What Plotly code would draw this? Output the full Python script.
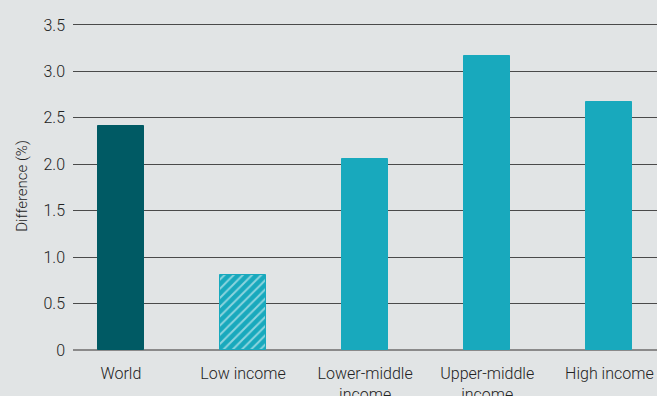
import plotly.graph_objects as go

categories = ["World", "Low income", "Lower-middle<br>income", "Upper-middle<br>income", "High income"]
values = [2.41, 0.81, 2.06, 3.17, 2.67]
bar_colors = ["#005a64", "#18a9bd", "#18a9bd", "#18a9bd", "#18a9bd"]
pattern_shapes = ["", "/", "", "", ""]
pattern_bg = ["#005a64", "white", "#18a9bd", "#18a9bd", "#18a9bd"]
y_ticks = [0, 0.5, 1.0, 1.5, 2.0, 2.5, 3.0, 3.5]
y_tick_text = ["0", "0.5", "1.0", "1.5", "2.0", "2.5", "3.0", "3.5"]

fig = go.Figure(go.Bar(
    x=list(range(len(categories))),
    y=values,
    width=0.376,
    marker=dict(
        color=bar_colors,
        line=dict(color=bar_colors, width=1),
        pattern=dict(shape=pattern_shapes, fgcolor="#18a9bd", bgcolor=pattern_bg,
                     size=6.5, solidity=0.3),
    ),
    hoverinfo="skip",
))

font_family = "Roboto, Liberation Sans, sans-serif"
text_font = dict(family=font_family, size=16, color="#222222", weight=300)

fig.update_layout(
    width=657, height=396,
    margin=dict(l=73, r=0, t=22, b=46),
    paper_bgcolor="#e1e4e5",
    plot_bgcolor="#e1e4e5",
    showlegend=False,
    font=text_font,
    bargap=0,
)
fig.update_xaxes(
    tickmode="array",
    tickvals=list(range(len(categories))),
    ticktext=categories,
    range=[-0.392, 4.39],
    showgrid=False, zeroline=False, showline=False,
    ticks="outside", ticklen=9, tickcolor="rgba(0,0,0,0)",
    tickfont=text_font, automargin=False,
)
fig.update_yaxes(
    range=[0, 3.532],
    tickmode="array",
    tickvals=y_ticks,
    ticktext=y_tick_text,
    showgrid=True, gridcolor="#4a4a4a", gridwidth=1,
    zeroline=True, zerolinecolor="#8a8a8a", zerolinewidth=2,
    ticks="", ticklabelstandoff=7,
    tickfont=text_font, automargin=False,
    title=dict(text="Difference (%)", font=dict(family=font_family, size=15, color="#222222", weight=300), standoff=12),
)

fig.write_html("out.html", config={"displayModeBar": False})

with open("out.html", "r", encoding="utf-8") as f:
    html = f.read()
html = html.replace("<head>", "<head><style>html,body{margin:0;padding:0;overflow:hidden;}</style>", 1)
with open("out.html", "w", encoding="utf-8") as f:
    f.write(html)
